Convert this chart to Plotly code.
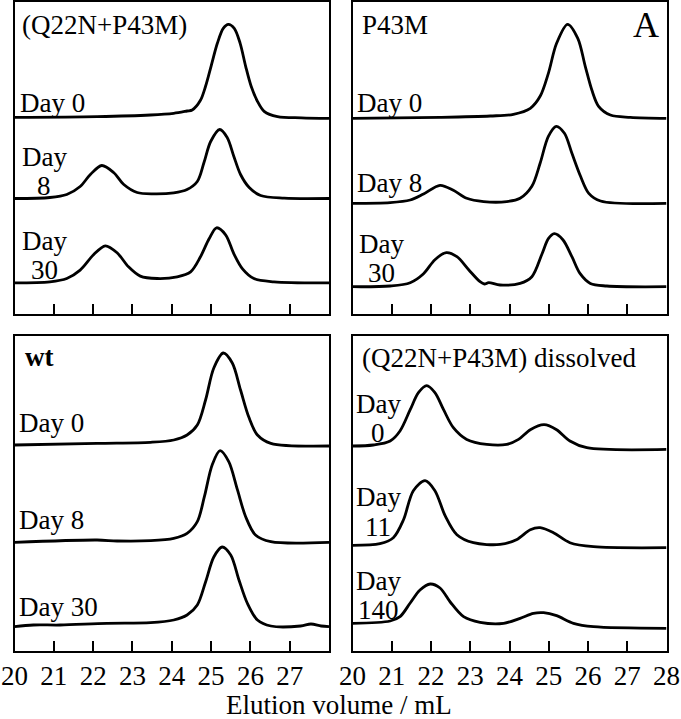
import plotly.graph_objects as go

# ---------------- data (elution volume in mL, absorbance in arbitrary units) ----------------
# Panel 1: (Q22N+P43M)
qp_d0_x = [20.0, 22.1, 23.46, 24.05, 24.39, 24.52, 24.73, 24.86, 25.0, 25.16, 25.31, 25.44, 25.59, 25.74, 25.88, 26.02, 26.18, 26.35, 26.69, 27.3, 28.0]
qp_d0_y = [1.0, 1.7, 3.3, 5.0, 7.3, 8.3, 18, 32, 52, 75, 90, 94, 90, 75, 52, 32, 17, 7, 1.7, 0.5, 0]
qp_d8_x = [20.0, 20.9, 21.33, 21.67, 21.93, 22.22, 22.52, 22.78, 23.12, 23.54, 24.05, 24.39, 24.65, 24.82, 24.99, 25.22, 25.41, 25.58, 25.75, 25.97, 26.26, 26.86, 28.0]
qp_d8_y = [0, 1, 4, 12, 24, 33, 26, 14, 6, 4.7, 5.7, 9, 17, 36, 57, 69, 61, 42, 24, 11, 3, 0.3, 0]
qp_d30_x = [20.0, 20.9, 21.33, 21.67, 22.01, 22.31, 22.61, 22.9, 23.2, 23.63, 24.14, 24.48, 24.73, 24.95, 25.14, 25.37, 25.58, 25.8, 26.09, 26.6, 28.0]
qp_d30_y = [0, 1, 4.3, 12.7, 28, 37, 30, 16, 6.7, 4.3, 6, 11, 26, 44, 55, 48, 29, 14, 4.3, 1, 0]

# Panel 2: P43M
p_d0_x = [20.0, 22.23, 23.51, 24.1, 24.53, 24.78, 24.99, 25.2, 25.48, 25.74, 25.93, 26.1, 26.27, 26.57, 27.08, 28.0]
p_d0_y = [0, 1, 2.3, 4, 10, 22, 45, 75, 94, 80, 52, 28, 12, 3.3, 1, 0]
p_d8_x = [20.0, 20.96, 21.47, 21.81, 22.23, 22.57, 22.91, 23.34, 23.93, 24.27, 24.57, 24.78, 24.99, 25.19, 25.4, 25.59, 25.81, 26.02, 26.32, 28.0]
p_d8_y = [0, 0.7, 3.3, 9.3, 18, 13, 5, 1.7, 1.7, 5, 17, 40, 67, 77, 70, 50, 27, 10, 2.3, 0]
p_d30_x = [20.0, 20.96, 21.47, 21.81, 22.1, 22.39, 22.66, 22.96, 23.25, 23.36, 23.47, 23.76, 24.27, 24.57, 24.83, 24.99, 25.14, 25.36, 25.59, 25.8, 26.06, 26.48, 28.0]
p_d30_y = [0, 0.7, 4, 13, 27, 34, 30, 17, 5, 2.7, 4, 1.7, 3.3, 10, 33, 48, 53, 47, 30, 13, 3.3, 0.7, 0]

# Panel 3: wt
wt_d0_x = [20.0, 22.1, 23.46, 24.05, 24.39, 24.65, 24.86, 25.07, 25.31, 25.54, 25.75, 25.96, 26.18, 26.52, 28.0]
wt_d0_y = [0, 1.7, 2.7, 5, 10, 20, 45, 77, 92, 82, 55, 28, 10, 1.7, -1]
wt_d8_x = [20.0, 22.1, 22.61, 23.46, 24.05, 24.39, 24.65, 24.83, 25.03, 25.23, 25.45, 25.67, 25.88, 26.13, 26.52, 28.0]
wt_d8_y = [-0.7, 1.7, 0.7, 1, 3.3, 8.3, 20, 45, 77, 91, 80, 52, 25, 6.7, 0, -0.7]
wt_d30_x = [20.0, 20.48, 21.16, 22.35, 23.46, 24.05, 24.39, 24.65, 24.86, 25.07, 25.28, 25.5, 25.71, 25.92, 26.18, 26.52, 27.28, 27.54, 27.8, 28.0]
wt_d30_y = [-0.7, 1, 1, 2.7, 3.3, 6, 11, 21, 44, 69, 79, 71, 46, 23, 6, 0, 0, 2, 0, -0.7]

# Panel 4: (Q22N+P43M) dissolved
qd_d0_x = [20.0, 20.53, 20.96, 21.21, 21.47, 21.68, 21.89, 22.1, 22.32, 22.57, 22.91, 23.42, 23.93, 24.23, 24.53, 24.88, 25.2, 25.54, 25.97, 28.0]
qd_d0_y = [2.7, 3.7, 7.7, 17.7, 39, 56, 63, 56, 39, 21, 9.3, 4.3, 4.3, 9.3, 19, 24, 19, 7.7, 1, -0.7]
qd_d11_x = [20.0, 20.7, 21.04, 21.3, 21.55, 21.85, 22.1, 22.36, 22.66, 23.08, 23.76, 24.19, 24.53, 24.78, 25.12, 25.54, 26.14, 28.0]
qd_d11_y = [1.3, 3, 9, 27, 56, 66, 56, 31, 12, 4, 2.3, 7.3, 17, 19, 14, 4, 0, -1]
qd_d140_x = [20.0, 20.96, 21.21, 21.47, 21.72, 21.98, 22.23, 22.49, 22.83, 23.25, 23.85, 24.27, 24.61, 24.87, 25.2, 25.63, 26.14, 28.0]
qd_d140_y = [1.7, 4, 8.3, 22, 35, 41, 37, 23, 8.3, 2.7, 1.7, 6.7, 11.7, 12.3, 9.3, 1.7, -1.7, -3.3]

panel_titles = ["(Q22N+P43M)", "P43M", "<b>wt</b>", "(Q22N+P43M) dissolved"]
left_ticks = [20, 21, 22, 23, 24, 25, 26, 27]
right_ticks = [20, 21, 22, 23, 24, 25, 26, 27, 28]
x_title = "Elution volume / mL"
panel_letter = "A"

# ---------------- layout ----------------
W, HGT = 681, 719
FONT = "Liberation Serif, Times New Roman, serif"
FS = 27


def px(x):
    return x / W


def py(y):
    return 1 - y / HGT


# panel pixel boxes: (x0, x1, y_top, y_bottom)
boxes = [
    (14.5, 329.0, 1.5, 314.0),
    (352.5, 666.5, 1.5, 314.0),
    (14.5, 329.0, 335.5, 650.5),
    (352.5, 666.5, 335.5, 650.5),
]
# stacking offsets (baseline pixel rows) for the three traces of each panel
stack = [
    (118.3, 198.5, 282.8),
    (118.3, 203.3, 286.7),
    (445.0, 541.7, 626.0),
    (448.7, 546.7, 625.0),
]
series = [
    [(qp_d0_x, qp_d0_y), (qp_d8_x, qp_d8_y), (qp_d30_x, qp_d30_y)],
    [(p_d0_x, p_d0_y), (p_d8_x, p_d8_y), (p_d30_x, p_d30_y)],
    [(wt_d0_x, wt_d0_y), (wt_d8_x, wt_d8_y), (wt_d30_x, wt_d30_y)],
    [(qd_d0_x, qd_d0_y), (qd_d11_x, qd_d11_y), (qd_d140_x, qd_d140_y)],
]

fig = go.Figure()
for i in range(4):
    xa = "x" if i == 0 else f"x{i+1}"
    ya = "y" if i == 0 else f"y{i+1}"
    for (xs, ys), base in zip(series[i], stack[i]):
        fig.add_trace(go.Scatter(
            x=xs, y=[-base + v for v in ys], xaxis=xa, yaxis=ya,
            mode="lines", line=dict(color="black", width=2.8, shape="spline", smoothing=0.9),
            showlegend=False, hoverinfo="skip"))

    x0, x1, yt, yb = boxes[i]
    xkey = "xaxis" if i == 0 else f"xaxis{i+1}"
    ykey = "yaxis" if i == 0 else f"yaxis{i+1}"
    ticks = left_ticks if i in (0, 2) else right_ticks
    fig.layout[xkey] = dict(
        domain=[px(x0), px(x1)], range=[20, 28], anchor=ya,
        showline=True, mirror=True, linecolor="black", linewidth=2,
        ticks="inside", ticklen=10, tickwidth=1.6, tickcolor="black",
        tickvals=ticks, ticktext=[str(t) for t in ticks],
        showticklabels=(i >= 2), showgrid=False, zeroline=False,
        tickfont=dict(family=FONT, size=FS, color="black"),
    )
    fig.layout[ykey] = dict(
        domain=[py(yb), py(yt)], range=[-yb, -yt], anchor=xa,
        showline=True, mirror=True, linecolor="black", linewidth=2,
        ticks="", showticklabels=False, showgrid=False, zeroline=False,
    )

annots = []


def txt(t, x, y, xanchor="left", size=FS):
    annots.append(dict(text=t, x=px(x), y=py(y), xref="paper", yref="paper",
                       xanchor=xanchor, yanchor="middle", showarrow=False,
                       font=dict(family=FONT, size=size, color="black")))


# panel titles
txt(panel_titles[0], 20, 25)
txt(panel_titles[1], 360, 25)
txt(panel_titles[2], 23, 357)
txt(panel_titles[3], 360, 358)
txt(panel_letter, 645.5, 25, xanchor="center", size=36)

# day labels
txt("Day 0", 18, 103)
txt("Day", 44, 157, "center"); txt("8", 44, 186, "center")
txt("Day", 44, 241, "center"); txt("30", 44, 270, "center")

txt("Day 0", 355, 103)
txt("Day 8", 355, 183)
txt("Day", 381, 244, "center"); txt("30", 381, 273, "center")

txt("Day 0", 17, 423)
txt("Day 8", 17, 520)
txt("Day 30", 17, 607)

txt("Day", 378, 404, "center"); txt("0", 378, 433, "center")
txt("Day", 378, 497, "center"); txt("11", 378, 527, "center")
txt("Day", 378, 581, "center"); txt("140", 378, 610, "center")

txt(x_title, 339, 705, "center")

fig.update_layout(
    width=W, height=HGT, margin=dict(l=0, r=0, t=0, b=0, autoexpand=False),
    paper_bgcolor="white", plot_bgcolor="white",
    annotations=annots, showlegend=False,
)

fig.write_html("out.html", config={"displayModeBar": False},
               post_script="document.body.style.margin='0';document.body.style.overflow='hidden';")
